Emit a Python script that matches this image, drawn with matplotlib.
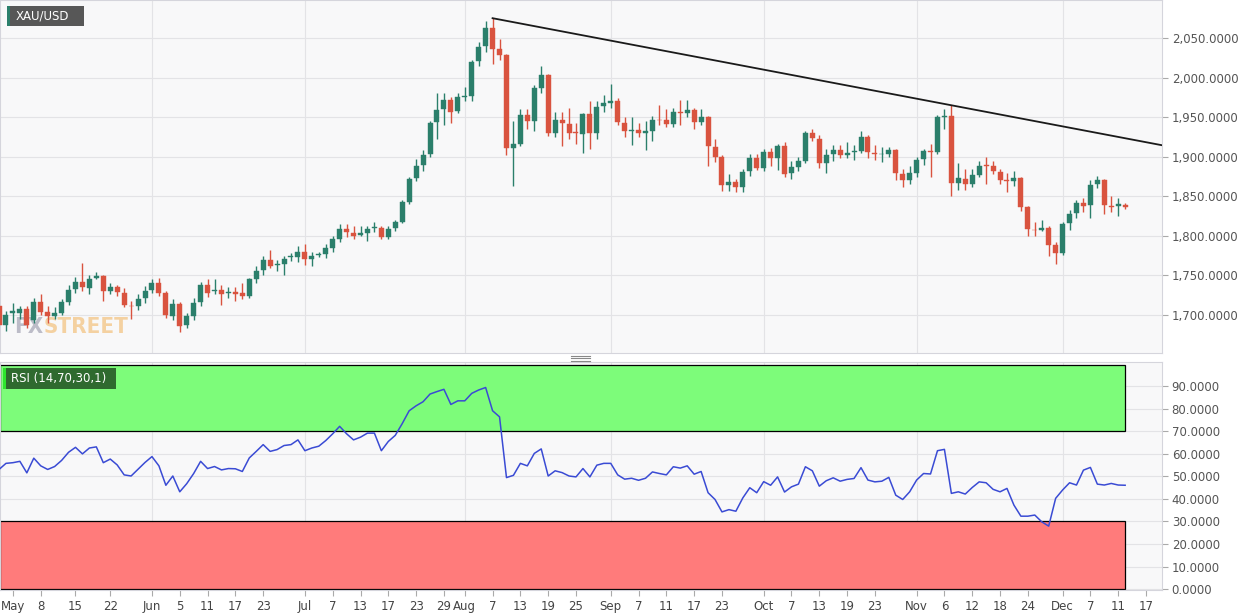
import numpy as np
import pandas as pd
import matplotlib
matplotlib.use("Agg")
import matplotlib.pyplot as plt
from matplotlib.patches import Rectangle
from matplotlib.ticker import FuncFormatter, MultipleLocator

# ---------------- data ----------------
start_date = "2020-04-30"
opens = [1711,1688,1703,1702,1707,1694,1716,1704,1699,1703,1717,1733,1742,1734,1747,1749,1730,1735,1728,1712,
         1711,1721,1731,1740,1728,1699,1714,1687,1699,1716,1738,1730,1732,1728,1729,1728,1724,1746,1757,1769,
         1763,1765,1773,1773,1780,1771,1776,1777,1785,1796,1809,1804,1801,1804,1810,1810,1798,1810,1818,1843,
         1873,1889,1903,1944,1960,1972,1958,1976,1977,2021,2040,2063,2036,2028,1911,1916,1953,1945,1987,2003,
         1930,1947,1941,1931,1929,1954,1930,1964,1968,1971,1943,1932,1934,1930,1932,1947,1946,1941,1957,1955,
         1959,1944,1950,1912,1900,1864,1868,1862,1882,1899,1886,1906,1898,1913,1879,1887,1894,1930,1923,1892,
         1903,1909,1902,1906,1907,1925,1905,1903,1903,1908,1878,1870,1880,1897,1907,1906,1950,1952,1867,1872,
         1865,1877,1889,1888,1881,1870,1869,1873,1836,1808,1808,1810,1788,1778,1816,1829,1842,1839,1865,1871,
         1838,1838,1839]
highs = [1715,1705,1715,1712,1712,1722,1727,1712,1710,1720,1738,1748,1766,1750,1754,1750,1740,1738,1734,1718,
         1727,1737,1746,1747,1730,1720,1716,1703,1722,1742,1745,1745,1738,1735,1736,1740,1747,1762,1775,1782,
         1770,1775,1778,1787,1790,1780,1779,1790,1800,1815,1815,1812,1813,1812,1818,1812,1812,1820,1845,1874,
         1897,1908,1945,1980,1980,1975,1980,1988,2022,2045,2072,2075,2049,2030,1945,1960,1960,1990,2015,2005,
         1957,1957,1962,1942,1955,1971,1971,1978,1992,1974,1950,1950,1942,1945,1952,1965,1960,1962,1972,1972,
         1962,1960,1952,1922,1902,1878,1872,1885,1903,1904,1910,1911,1916,1918,1895,1900,1932,1935,1927,1910,
         1915,1915,1918,1915,1932,1927,1915,1912,1912,1910,1885,1888,1900,1910,1916,1953,1960,1965,1892,1884,
         1884,1895,1900,1894,1884,1880,1882,1875,1838,1818,1820,1813,1792,1817,1833,1845,1848,1870,1876,1872,
         1850,1848,1842]
lows = [1680,1680,1690,1695,1683,1690,1700,1690,1695,1700,1713,1728,1730,1727,1745,1718,1726,1724,1710,1695,
        1706,1715,1728,1724,1696,1694,1678,1683,1694,1712,1723,1726,1713,1722,1718,1720,1722,1740,1751,1760,
        1755,1750,1768,1767,1763,1762,1773,1772,1780,1792,1799,1796,1800,1793,1805,1796,1796,1806,1816,1840,
        1869,1882,1900,1922,1940,1942,1955,1970,1970,2014,2032,2017,2022,1902,1863,1913,1935,1933,1980,1926,
        1925,1914,1922,1916,1905,1910,1923,1957,1962,1940,1925,1915,1925,1908,1920,1940,1938,1938,1940,1950,
        1935,1940,1888,1893,1857,1857,1855,1855,1876,1883,1882,1888,1883,1874,1872,1882,1892,1920,1886,1880,
        1895,1898,1898,1896,1905,1898,1896,1893,1900,1870,1862,1865,1875,1890,1875,1903,1935,1850,1858,1858,
        1862,1875,1865,1878,1865,1855,1863,1832,1800,1800,1806,1775,1765,1776,1808,1823,1830,1822,1860,1827,
        1830,1825,1834]
closes = [1688,1700,1705,1707,1688,1716,1704,1699,1703,1716,1732,1742,1735,1746,1749,1730,1735,1729,1713,1711,
          1720,1730,1740,1728,1700,1714,1686,1699,1715,1738,1728,1732,1727,1729,1727,1724,1745,1756,1769,1762,
          1765,1771,1774,1780,1771,1775,1777,1785,1796,1809,1805,1800,1803,1809,1811,1798,1809,1817,1843,1872,
          1888,1902,1943,1959,1972,1957,1976,1977,2020,2038,2063,2036,2029,1911,1916,1953,1945,1987,2003,1930,
          1947,1942,1930,1930,1954,1930,1963,1968,1971,1944,1932,1934,1930,1932,1947,1946,1941,1957,1955,1959,
          1944,1950,1913,1900,1864,1868,1862,1881,1899,1886,1906,1898,1913,1878,1887,1894,1930,1924,1892,1902,
          1909,1902,1905,1907,1925,1906,1903,1904,1908,1879,1870,1880,1896,1907,1906,1950,1952,1867,1873,1865,
          1877,1888,1888,1882,1871,1869,1873,1837,1809,1807,1810,1788,1778,1815,1828,1842,1838,1864,1871,1839,
          1837,1840,1836]
rsi = [53,55.7,56,56.6,51.5,58,54.6,53,54.3,57,60.6,62.8,59.9,62.5,63,56,57.6,55,50.6,50.1,
       53.1,56.1,58.7,54.6,46,50.1,43.1,46.7,51.2,56.6,53.4,54.3,52.8,53.4,53.3,52.1,58.1,61,64,61,
       61.8,63.6,64,66.1,61.3,62.5,63.3,65.8,68.8,72.1,68.8,66.1,67.3,69.1,69.1,61.3,65.4,68.1,73.3,79,
       81.2,83,86.4,87.5,88.5,81.8,83.4,83.4,86.7,88.2,89.3,79,76.3,49.4,50.4,55.7,54.6,60.1,62.1,50.1,
       52.4,51.6,50.1,49.7,53.4,49.7,54.9,55.7,55.7,50.6,48.7,49.1,48.2,49.1,51.9,51.2,50.6,54.2,53.6,54.6,
       50.9,52.1,42.7,39.7,34.2,35.2,34.5,40.4,44.9,42.7,47.6,46,49.7,43,45.3,46.5,54.2,52.4,45.6,48,
       49.3,47.8,48.6,49,53.8,48.3,47.5,47.8,49.5,41.6,39.7,43.1,48.3,51.2,51,61.3,61.9,42.4,43.1,42.1,
       45,47.5,47.1,44.2,43.1,44.6,37.2,32.3,32.3,32.8,29.8,27.9,40.2,43.9,47.1,46.1,52.7,53.9,46.5,46.1,
       46.8,46.1,46]
trend_dates = ["2020-08-07", "2020-11-09"]
tick_labels = ["May","8","15","22","Jun","5","11","17","23","Jul","7","13","17","23","29","Aug","7","13","19","25",
               "Sep","7","11","17","23","Oct","7","13","19","23","Nov","6","12","18","24","Dec","7","11","17"]
tick_dates = ["2020-05-04","2020-05-08","2020-05-15","2020-05-22","2020-06-01","2020-06-05","2020-06-11","2020-06-17",
              "2020-06-23","2020-07-01","2020-07-07","2020-07-13","2020-07-17","2020-07-23","2020-07-29","2020-08-03",
              "2020-08-07","2020-08-13","2020-08-19","2020-08-25","2020-09-01","2020-09-07","2020-09-11","2020-09-17",
              "2020-09-23","2020-10-01","2020-10-07","2020-10-13","2020-10-19","2020-10-23","2020-11-02","2020-11-06",
              "2020-11-12","2020-11-18","2020-11-24","2020-12-01","2020-12-07","2020-12-11","2020-12-17"]
month_dates = ["2020-06-01","2020-07-01","2020-08-03","2020-09-01","2020-10-01","2020-11-02","2020-12-01"]

# ---------------- helpers ----------------
n = len(closes)
all_days = pd.bdate_range(start_date, periods=n + 20)
def idx(d):
    return int(np.searchsorted(all_days, pd.Timestamp(d))) - 1
xs = np.arange(n) - 1  # index -1 = start_date

fig = plt.figure(figsize=(12.45, 6.16), dpi=100)
fig.patch.set_facecolor("white")
L, R = 0.0, 1162 / 1245
ax = fig.add_axes([L, 1 - 353 / 616, R - L, 353 / 616])
ax2 = fig.add_axes([L, 1 - 590 / 616, R - L, (590 - 362) / 616])

GREEN, RED = "#2b7f6b", "#d9533f"
bg = "#f8f8f9"
grid_c = "#e3e3e6"
XMIN, XMAX = -0.86, 166.3

for a in (ax, ax2):
    a.set_facecolor(bg)
    a.set_xlim(XMIN, XMAX)
    for s in a.spines.values():
        s.set_color("#d5d5dc")
        s.set_linewidth(0.8)
    a.yaxis.tick_right()
    a.tick_params(axis="y", length=4, color="#aaa", labelsize=8.5, labelcolor="#555", pad=3)
    a.set_axisbelow(True)
    a.grid(True, axis="y", color=grid_c, lw=0.8)
    for md in month_dates:
        a.axvline(idx(md), color=grid_c, lw=0.8, zorder=0)

# watermark
fx = ax.text(1.2, 1677, "FX", fontsize=16, fontweight="bold", color="#8c8ca0", alpha=0.55,
             fontstretch="condensed", zorder=1)
ax.annotate("STREET", xy=(1, 0), xycoords=fx, va="bottom", ha="left", fontsize=16, fontweight="bold",
            color="#f2b766", alpha=0.6, fontstretch="condensed", zorder=1)

# candles
for x, o, h, l, c in zip(xs, opens, highs, lows, closes):
    col = GREEN if c >= o else RED
    ax.vlines(x, l, h, color=col, lw=1, zorder=2)
    lo, hi = min(o, c), max(o, c)
    ax.add_patch(Rectangle((x - 0.36, lo), 0.72, max(hi - lo, 0.8), facecolor=col,
                           edgecolor=col, lw=0.3, zorder=3))

ax.set_ylim(1652, 2098)
ax.yaxis.set_major_locator(MultipleLocator(50))
ax.yaxis.set_major_formatter(FuncFormatter(lambda v, p: f"{v:,.4f}"))
ax.set_xticks([])

# trend line
i1, i2 = idx(trend_dates[0]), idx(trend_dates[1])
y1, y2 = highs[i1 + 1], highs[i2 + 1]
slope = (y2 - y1) / (i2 - i1)
ax.plot([i1, XMAX], [y1, y1 + slope * (XMAX - i1)], color="#1a1a1a", lw=1.3, zorder=4)

# label box
fig.patches.append(Rectangle((7 / 1245, 1 - 26 / 616), 77 / 1245, 20 / 616, transform=fig.transFigure,
                             facecolor="#575757", edgecolor="none", zorder=5))
fig.patches.append(Rectangle((7 / 1245, 1 - 26 / 616), 3 / 1245, 20 / 616, transform=fig.transFigure,
                             facecolor="#2b7f6b", edgecolor="none", zorder=6))
fig.text(16 / 1245, 1 - 16 / 616, "XAU/USD", color="white", fontsize=8.5, va="center", zorder=7)

# RSI panel
last = xs[-1]
ax2.add_patch(Rectangle((XMIN, 70), last - XMIN, 29.3, facecolor="#7dfc7a", edgecolor="black", lw=0.9, zorder=1))
ax2.add_patch(Rectangle((XMIN, 0), last - XMIN, 30, facecolor="#ff7b7b", edgecolor="black", lw=0.9, zorder=1))
ax2.plot(xs, rsi, color="#3a4bd4", lw=1.1, zorder=3)
ax2.set_ylim(-0.4, 100.6)
ax2.set_yticks(np.arange(0, 91, 10))
ax2.yaxis.set_major_formatter(FuncFormatter(lambda v, p: f"{v:.4f}"))
ax2.set_xticks([idx(d) for d in tick_dates])
ax2.set_xticklabels(tick_labels)
ax2.tick_params(axis="x", length=4, color="#aaa", labelsize=8.5, labelcolor="#444", pad=3)

fig.patches.append(Rectangle((3 / 1245, 1 - 389 / 616), 113 / 1245, 21 / 616, transform=fig.transFigure,
                             facecolor="#2f6a2f", edgecolor="none", zorder=5))
fig.patches.append(Rectangle((3 / 1245, 1 - 389 / 616), 3 / 1245, 21 / 616, transform=fig.transFigure,
                             facecolor="#2ee62e", edgecolor="none", zorder=6))
fig.text(11 / 1245, 1 - 378.5 / 616, "RSI (14,70,30,1)", color="white", fontsize=8.5, va="center", zorder=7)

# separator handle
for dy in (356, 358.5, 361):
    fig.add_artist(plt.Line2D([571 / 1245, 590 / 1245], [1 - dy / 616] * 2, color="#888", lw=0.8))

fig.savefig("out.png", dpi=100, facecolor="white")
